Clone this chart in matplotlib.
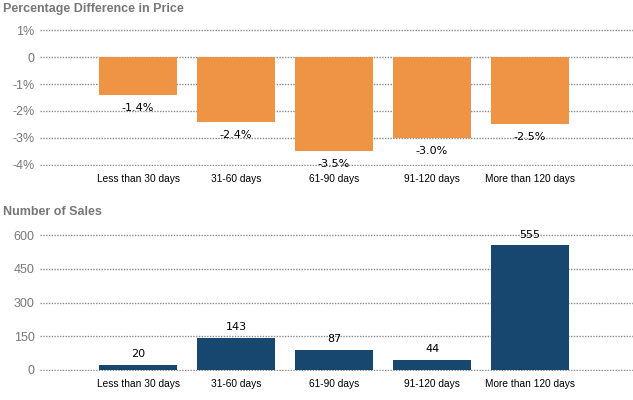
import matplotlib.pyplot as plt
import numpy as np

categories = ["Less than 30 days", "31-60 days", "61-90 days", "91-120 days", "More than 120 days"]
price_diff = [-1.4, -2.4, -3.5, -3.0, -2.5]   # percent
sales = [20, 143, 87, 44, 555]

orange = "#EE9444"
navy = "#17476F"
grey = "#777777"

fig = plt.figure(figsize=(6.33, 4.0), dpi=100)
ax1 = fig.add_axes([40 / 633, 1 - 166 / 400, 1 - 40 / 633, 137 / 400])
ax2 = fig.add_axes([40 / 633, 1 - 371 / 400, 1 - 40 / 633, 137 / 400])

x = np.arange(len(categories))


def style(ax):
    for s in ax.spines.values():
        s.set_visible(False)
    ax.set_axisbelow(True)
    ax.yaxis.grid(True, linestyle=(0, (1, 1)), color="#8a8a8a", linewidth=1.0)
    ax.tick_params(axis="y", length=0, pad=4, labelsize=9, labelcolor=grey)
    ax.tick_params(axis="x", length=0, pad=6, labelsize=7.3)
    ax.set_xticks(x)
    ax.set_xticklabels(categories, family="Liberation Sans")
    for t in ax.get_yticklabels():
        t.set_family("Liberation Sans")
    ax.set_xlim(-1, 5.05)


# top chart
ax1.bar(x, price_diff, width=0.8, color=orange)
ax1.set_ylim(-4.05, 1.05)
ax1.set_yticks([1, 0, -1, -2, -3, -4])
ax1.set_yticklabels(["1%", "0", "-1%", "-2%", "-3%", "-4%"])
style(ax1)
for xi, v in zip(x, price_diff):
    ax1.text(xi, v - 0.48, f"{v:.1f}%", ha="center", va="center", fontsize=8)

# bottom chart
ax2.bar(x, sales, width=0.8, color=navy)
ax2.set_ylim(-6, 606)
ax2.set_yticks([0, 150, 300, 450, 600])
style(ax2)
for xi, v in zip(x, sales):
    ax2.text(xi, v + 48, str(v), ha="center", va="center", fontsize=8)

fig.text(3 / 633, 1 - 9 / 400, "Percentage Difference in Price", fontsize=9, fontweight="bold",
         color=grey, family="Liberation Sans", va="center")
fig.text(3 / 633, 1 - 212 / 400, "Number of Sales", fontsize=9, fontweight="bold",
         color=grey, family="Liberation Sans", va="center")

fig.savefig("out.png", dpi=100)
